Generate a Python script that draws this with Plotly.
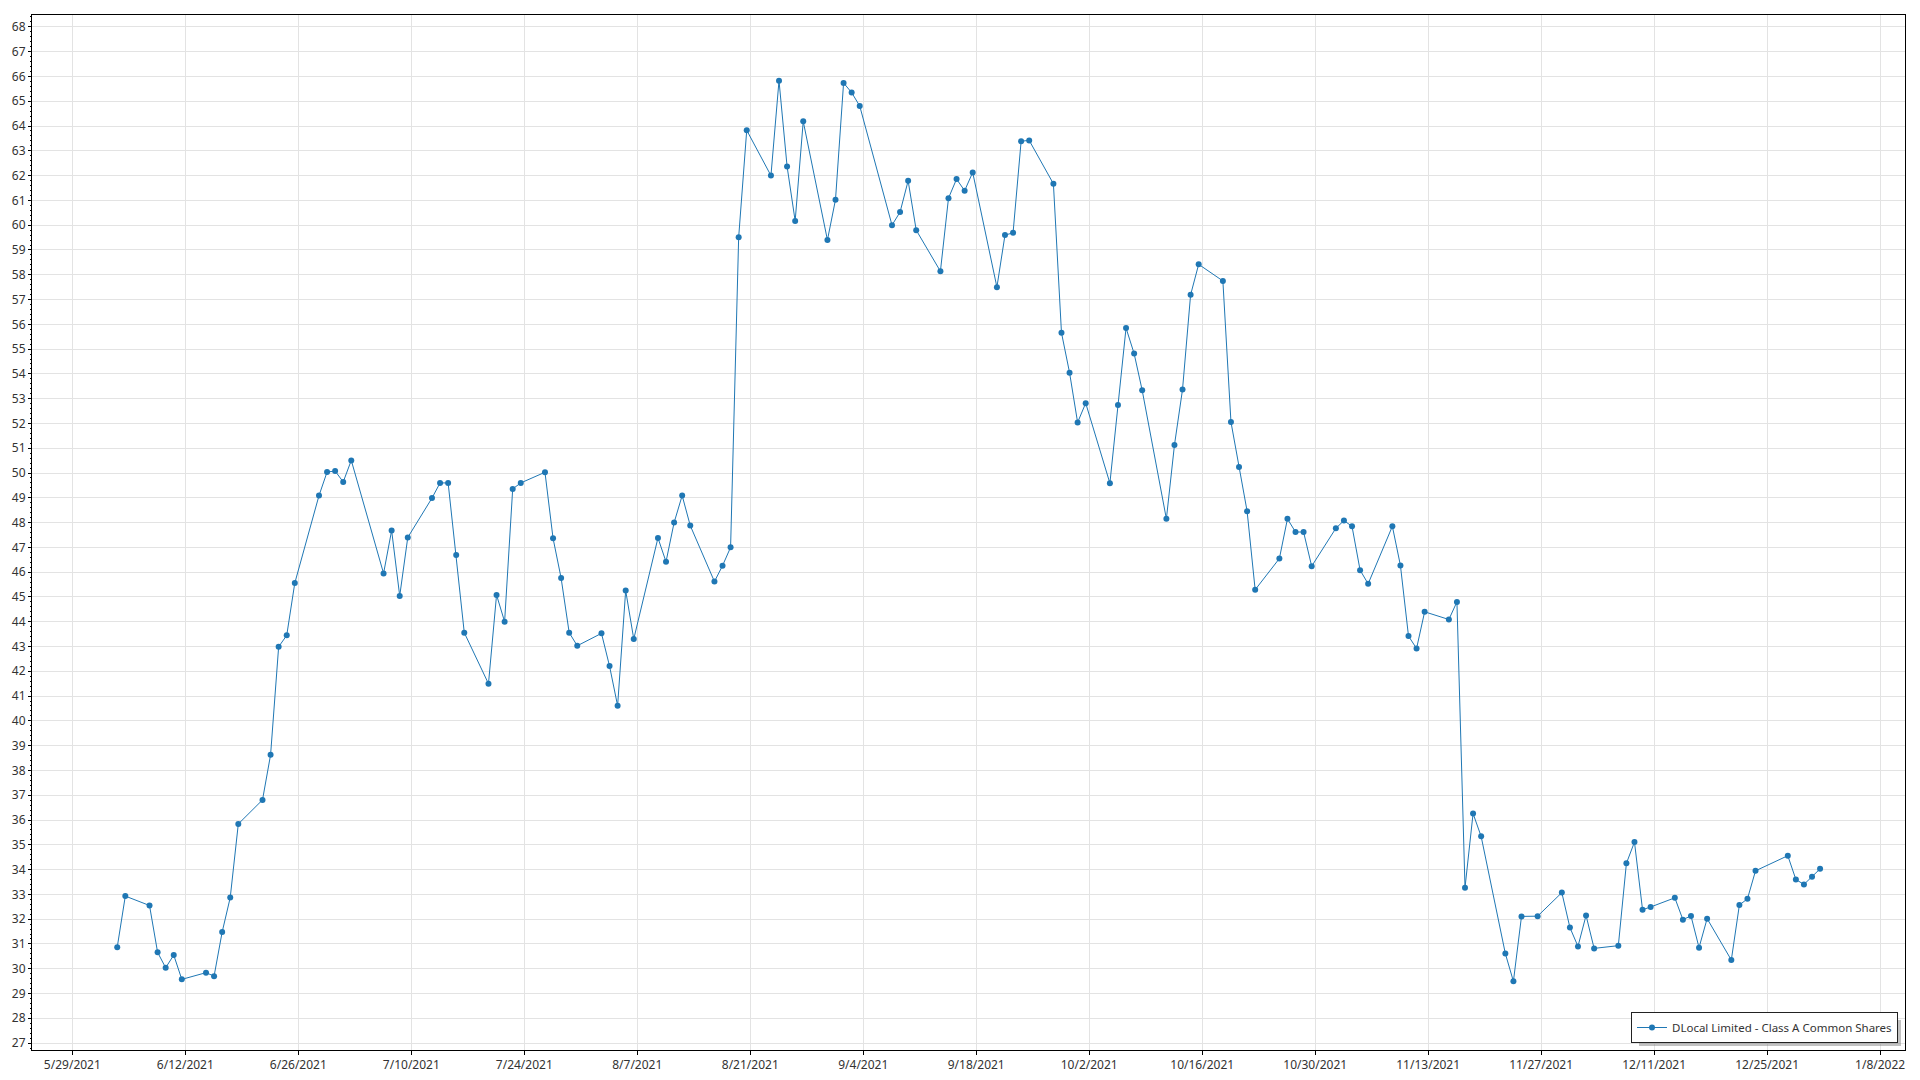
import plotly.graph_objects as go

series_name = "DLocal Limited - Class A Common Shares"

# Trading days (timestamps at market open, 13:30 UTC)
dates = [
    "2021-06-03", "2021-06-04", "2021-06-07", "2021-06-08", "2021-06-09", "2021-06-10", "2021-06-11",
    "2021-06-14", "2021-06-15", "2021-06-16", "2021-06-17", "2021-06-18",
    "2021-06-21", "2021-06-22", "2021-06-23", "2021-06-24", "2021-06-25",
    "2021-06-28", "2021-06-29", "2021-06-30", "2021-07-01", "2021-07-02",
    "2021-07-06", "2021-07-07", "2021-07-08", "2021-07-09",
    "2021-07-12", "2021-07-13", "2021-07-14", "2021-07-15", "2021-07-16",
    "2021-07-19", "2021-07-20", "2021-07-21", "2021-07-22", "2021-07-23",
    "2021-07-26", "2021-07-27", "2021-07-28", "2021-07-29", "2021-07-30",
    "2021-08-02", "2021-08-03", "2021-08-04", "2021-08-05", "2021-08-06",
    "2021-08-09", "2021-08-10", "2021-08-11", "2021-08-12", "2021-08-13",
    "2021-08-16", "2021-08-17", "2021-08-18", "2021-08-19", "2021-08-20",
    "2021-08-23", "2021-08-24", "2021-08-25", "2021-08-26", "2021-08-27",
    "2021-08-30", "2021-08-31", "2021-09-01", "2021-09-02", "2021-09-03",
    "2021-09-07", "2021-09-08", "2021-09-09", "2021-09-10",
    "2021-09-13", "2021-09-14", "2021-09-15", "2021-09-16", "2021-09-17",
    "2021-09-20", "2021-09-21", "2021-09-22", "2021-09-23", "2021-09-24",
    "2021-09-27", "2021-09-28", "2021-09-29", "2021-09-30", "2021-10-01",
    "2021-10-04", "2021-10-05", "2021-10-06", "2021-10-07", "2021-10-08",
    "2021-10-11", "2021-10-12", "2021-10-13", "2021-10-14", "2021-10-15",
    "2021-10-18", "2021-10-19", "2021-10-20", "2021-10-21", "2021-10-22",
    "2021-10-25", "2021-10-26", "2021-10-27", "2021-10-28", "2021-10-29",
    "2021-11-01", "2021-11-02", "2021-11-03", "2021-11-04", "2021-11-05",
    "2021-11-08", "2021-11-09", "2021-11-10", "2021-11-11", "2021-11-12",
    "2021-11-15", "2021-11-16", "2021-11-17", "2021-11-18", "2021-11-19",
    "2021-11-22", "2021-11-23", "2021-11-24", "2021-11-26",
    "2021-11-29", "2021-11-30", "2021-12-01", "2021-12-02", "2021-12-03",
    "2021-12-06", "2021-12-07", "2021-12-08", "2021-12-09", "2021-12-10",
    "2021-12-13", "2021-12-14", "2021-12-15", "2021-12-16", "2021-12-17",
    "2021-12-20", "2021-12-21", "2021-12-22", "2021-12-23",
    "2021-12-27", "2021-12-28", "2021-12-29", "2021-12-30", "2021-12-31",
]
time_of_day = "13:30"

prices = [
    30.87, 32.93, 32.55, 30.66, 30.04, 30.55, 29.57,
    29.84, 29.70, 31.48, 32.87, 35.84,
    36.81, 38.63, 42.99, 43.45, 45.56,
    49.09, 50.04, 50.08, 49.64, 50.51,
    45.95, 47.68, 45.04, 47.40,
    48.99, 49.60, 49.60, 46.69, 43.56,
    41.50, 45.08, 44.00, 49.36, 49.60,
    50.03, 47.37, 45.76, 43.56, 43.03,
    43.53, 42.21, 40.61, 45.26, 43.30,
    47.38, 46.42, 48.00, 49.09, 47.88,
    45.62, 46.26, 47.00, 59.51, 63.83,
    62.00, 65.83, 62.37, 60.17, 64.19,
    59.40, 61.03, 65.74, 65.35, 64.81,
    60.00, 60.53, 61.79, 59.80,
    58.14, 61.09, 61.86, 61.39, 62.13,
    57.50, 59.60, 59.69, 63.39, 63.42,
    61.67, 55.66, 54.05, 52.04, 52.82,
    49.59, 52.74, 55.85, 54.82, 53.34,
    48.15, 51.13, 53.37, 57.19, 58.42,
    57.75, 52.06, 50.24, 48.46, 45.29,
    46.55, 48.15, 47.62, 47.62, 46.24,
    47.77, 48.08, 47.85, 46.08, 45.53,
    47.85, 46.27, 43.42, 42.92, 44.40,
    44.09, 44.80, 33.27, 36.26, 35.34,
    30.61, 29.49, 32.11, 32.12,
    33.07, 31.66, 30.90, 32.15, 30.82,
    30.93, 34.25, 35.11, 32.38, 32.49,
    32.86, 31.98, 32.13, 30.85, 32.02,
    30.35, 32.57, 32.82, 33.95,
    34.56, 33.60, 33.40, 33.71, 34.03,
]

x_range = ["2021-05-24 00:00", "2022-01-11 02:00"]
y_range = [26.72, 68.48]
x_tick0 = "2021-05-29"
x_dtick_days = 14

line_color = "#1f77b4"
grid_color = "#e3e3e3"
font_family = "Noto Sans, Open Sans, sans-serif"

# The page body has a default 8px margin; size the figure to fit the window.
BODY = 8
W, H = 1904, 1064
ML, MR, MT, MB = 24, 7, 7, 22
PW, PH = W - ML - MR, H - MT - MB

x_vals = [f"{d} {time_of_day}" for d in dates]

fig = go.Figure()
fig.add_trace(go.Scatter(
    x=x_vals, y=prices, name=series_name, mode="lines+markers",
    line=dict(color=line_color, width=1),
    marker=dict(color=line_color, size=6),
    showlegend=True,
))

# legend box geometry (page pixels) and a soft drop shadow behind it
leg_right, leg_bottom = 1898, 1043
leg_w, leg_h = 262, 26
def px_x(p):
    return (p - BODY - ML) / PW
def px_y(p):
    return (H - MB - (p - BODY)) / PH

fig.add_shape(
    type="rect", xref="paper", yref="paper", layer="above",
    x0=px_x(leg_right - leg_w + 3), x1=px_x(leg_right + 3),
    y0=px_y(leg_bottom + 3), y1=px_y(leg_bottom - leg_h + 3),
    fillcolor="rgba(120,120,120,0.45)", line=dict(width=0),
)

fig.update_layout(
    width=W, height=H,
    margin=dict(l=ML, r=MR, t=MT, b=MB, autoexpand=False),
    paper_bgcolor="white", plot_bgcolor="white",
    font=dict(family=font_family, size=12, color="#333333"),
    showlegend=True,
    legend=dict(
        x=px_x(leg_right), y=px_y(leg_bottom), xanchor="right", yanchor="bottom",
        bgcolor="white", bordercolor="#222222", borderwidth=1,
        font=dict(size=11.5, color="#333333"),
        tracegroupgap=0,
    ),
    xaxis=dict(
        type="date", range=x_range, automargin=False,
        tick0=x_tick0, dtick=x_dtick_days * 86400000,
        tickformat="%-m/%-d/%Y",
        showgrid=True, gridcolor=grid_color, gridwidth=1,
        showline=True, linecolor="black", linewidth=1, mirror=True,
        ticks="outside", ticklen=4, tickcolor="black",
        zeroline=False,
        tickfont=dict(size=12),
    ),
    yaxis=dict(
        range=y_range, dtick=1, tick0=0, automargin=False,
        showgrid=True, gridcolor=grid_color, gridwidth=1,
        showline=True, linecolor="black", linewidth=1, mirror=True,
        ticks="outside", ticklen=3, tickcolor="black",
        minor=dict(dtick=0.2, ticks="outside", ticklen=1.5, tickcolor="black", showgrid=False),
        zeroline=False,
        tickfont=dict(size=12),
    ),
)

fig.write_html("out.html")
